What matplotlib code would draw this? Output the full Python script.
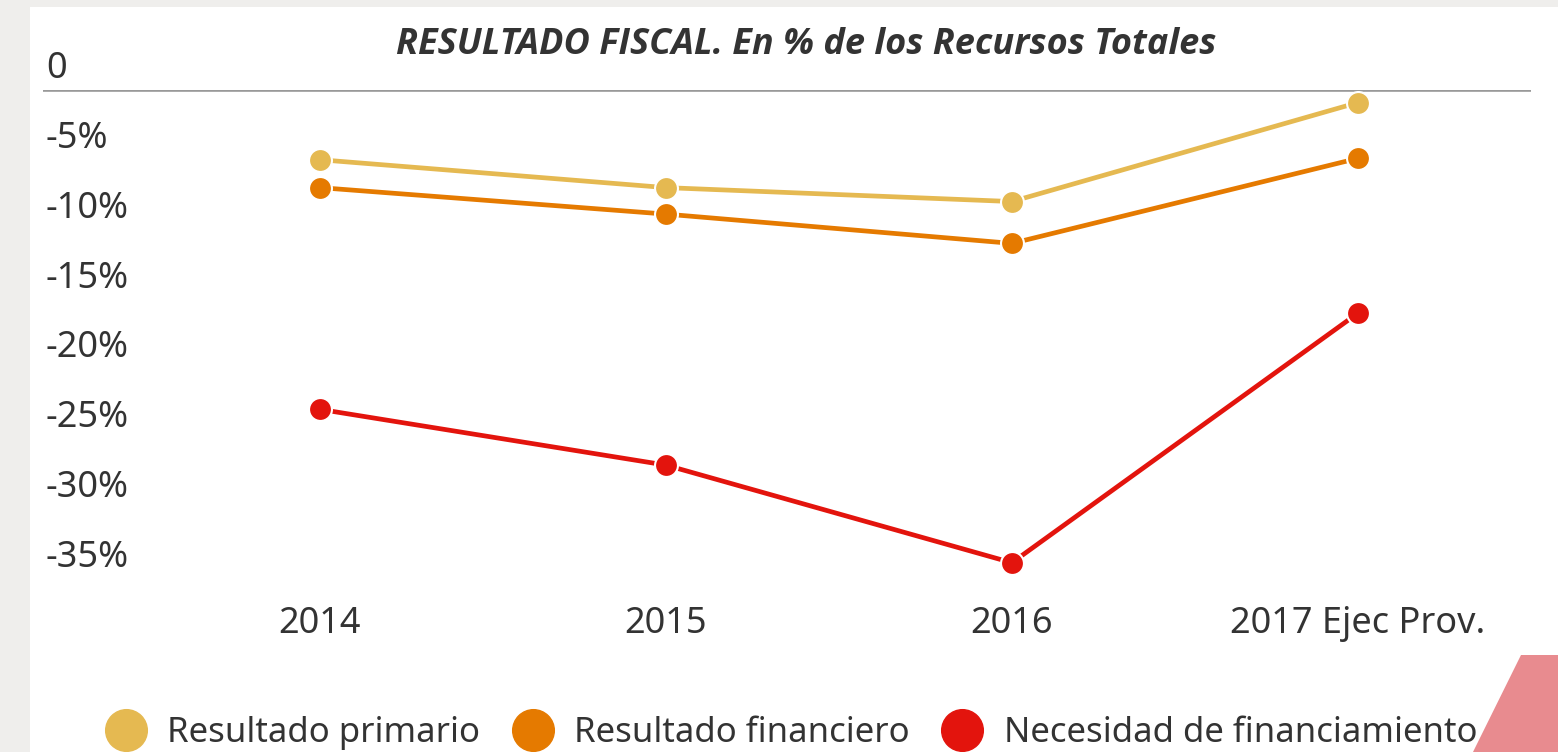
import matplotlib
matplotlib.use("Agg")
import matplotlib.pyplot as plt
import matplotlib.transforms as mtransforms
from matplotlib.patches import Rectangle, Polygon
from matplotlib.lines import Line2D

categories = ["2014", "2015", "2016", "2017 Ejec Prov."]
primario = [-5.0, -7.0, -8.0, -0.9]
financiero = [-7.0, -8.9, -11.0, -4.9]
necesidad = [-22.9, -26.9, -33.9, -16.0]
series_names = ["Resultado primario", "Resultado financiero", "Necesidad de financiamiento"]
colors = ["#E5B951", "#E57A00", "#E3140D"]
yticks = [0, -5, -10, -15, -20, -25, -30, -35]
ytick_labels = ["0", "-5%", "-10%", "-15%", "-20%", "-25%", "-30%", "-35%"]

plt.rcParams['font.family'] = ['Noto Sans', 'DejaVu Sans']

W, H = 1558, 752
fig = plt.figure(figsize=(W / 100, H / 100), dpi=100)
fig.patch.set_facecolor("#EFEEEC")
# white card and pink corner decoration
fig.patches.append(Rectangle((30 / W, 0), 1 - 30 / W, 1 - 7 / H, transform=fig.transFigure,
                             facecolor="white", edgecolor="none", zorder=-5))
fig.patches.append(Polygon([(1473 / W, 0), (1521 / W, 1 - 655 / H), (1, 1 - 655 / H), (1, 0)],
                           closed=True, transform=fig.transFigure,
                           facecolor="#E88B8F", edgecolor="none", zorder=-4))

ax = fig.add_axes([43 / W, 1 - 592 / H, (1531 - 43) / W, (592 - 90) / H])
ax.set_facecolor("none")

x = range(len(categories))
for vals, name, c in zip([primario, financiero, necesidad], series_names, colors):
    ax.plot(x, vals, color=c, lw=3.4, marker="o", ms=16.5, mfc=c, mec="white", mew=1.5,
            label=name, zorder=3, clip_on=False)

ax.axhline(0, color="#999999", lw=2.6, zorder=1)

ax.set_xlim(-0.8, 3.5)
ax.set_ylim(-36, 0)
ax.set_xticks(list(x))
ax.set_xticklabels(categories, fontsize=26, color="#333333")
ax.set_yticks(yticks)
ax.set_yticklabels(ytick_labels, fontsize=26, color="#333333")
ax.tick_params(axis="both", length=0)
ax.tick_params(axis="x", pad=10)
ax.tick_params(axis="y", pad=-2)
off = mtransforms.ScaledTranslation(0, 25 / 100, fig.dpi_scale_trans)
for lab in ax.get_yticklabels():
    lab.set_horizontalalignment("left")
    lab.set_transform(lab.get_transform() + off)
for s in ax.spines.values():
    s.set_visible(False)

fig.text(806 / W, 1 - 45 / H, "RESULTADO FISCAL. En % de los Recursos Totales",
         ha="center", va="center", fontsize=26, fontweight="bold", fontstyle="italic",
         color="#333333", family=["Open Sans", "Lato", "DejaVu Sans"])

handles = [Line2D([], [], ls="none", marker="o", ms=30, mfc=c, mec=c) for c in colors]
fig.legend(handles, series_names, loc="center", bbox_to_anchor=(791 / W, 1 - 733 / H),
           ncol=3, frameon=False, fontsize=25, labelcolor="#333333",
           handletextpad=0.6, columnspacing=0.9, handlelength=1.2)

fig.savefig("out.png", dpi=100, facecolor=fig.get_facecolor())
